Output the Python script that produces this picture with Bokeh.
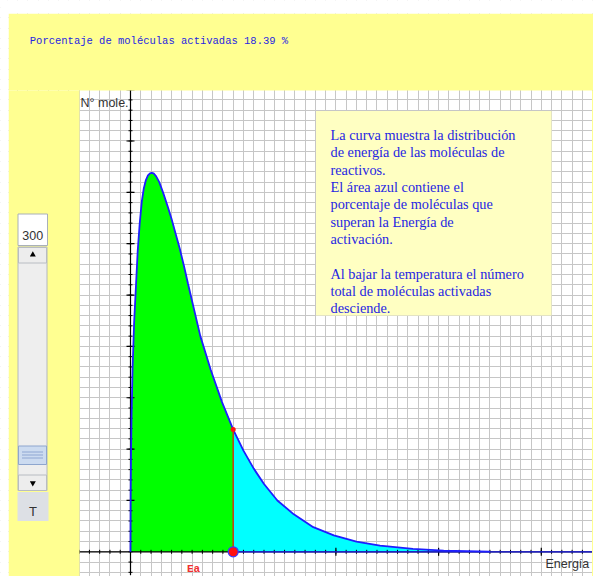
import numpy as np
from bokeh.plotting import figure
from bokeh.models import Range1d, Grid, FixedTicker, Label
from bokeh.embed import file_html
from bokeh.resources import INLINE

# ---- data ----
energy = [0.000, 0.002, 0.005, 0.010, 0.020, 0.035, 0.050, 0.070, 0.090, 0.110,
          0.130, 0.150, 0.170, 0.190, 0.207, 0.225, 0.250, 0.280, 0.320, 0.360,
          0.400, 0.440, 0.480, 0.520, 0.560, 0.600, 0.680, 0.780, 0.890, 1.000,
          1.100, 1.200, 1.300, 1.430, 1.590, 1.780, 1.980, 2.200, 2.430, 2.750,
          3.050, 3.500]
molecules = [0.00, 1.20, 1.90, 2.60, 3.55, 4.45, 5.05, 5.85, 6.40, 6.82,
             7.08, 7.24, 7.33, 7.37, 7.38, 7.37, 7.31, 7.20, 6.98, 6.74,
             6.48, 6.19, 5.90, 5.57, 5.22, 4.88, 4.20, 3.55, 2.92, 2.38,
             1.97, 1.62, 1.32, 1.00, 0.73, 0.48, 0.32, 0.20, 0.12, 0.055,
             0.022, 0.004]
ea_energy = 1.0
ea_molecules = 2.38
percent_activated = 18.39
temperature = 300
info_lines = ["La curva muestra la distribución",
              "de energía de las moléculas de",
              "reactivos.",
              "El área azul contiene el",
              "porcentaje de moléculas que",
              "superan la Energía de",
              "activación.",
              "",
              "Al bajar la temperatura el número",
              "total de moléculas activadas",
              "desciende."]

YELLOW = "#FFFF91"
BOX = "#FFFFC2"
TXT_BLUE = "#2626E2"

W, H = 593, 576
p = figure(width=W, height=H, title=None,
           x_range=Range1d(-1.2658, 4.5083), y_range=Range1d(-0.481, 10.736),
           x_axis_type=None, y_axis_type=None, toolbar_location=None,
           output_backend="svg", min_border=0)
p.outline_line_color = None
p.background_fill_color = "white"
p.border_fill_color = YELLOW
p.extra_x_ranges = {"px": Range1d(0, 593)}
p.extra_y_ranges = {"px": Range1d(576, 0)}

# grid: one line per cell
xt = [round(v, 2) for v in np.arange(-1.3, 4.6, 0.1)]
yt = [round(v, 2) for v in np.arange(-0.6, 10.8, 0.2)]
p.add_layout(Grid(dimension=0, ticker=FixedTicker(ticks=xt),
                  grid_line_color="#C6C6C6", grid_line_width=1))
p.add_layout(Grid(dimension=1, ticker=FixedTicker(ticks=yt),
                  grid_line_color="#C6C6C6", grid_line_width=1))

E = np.array(energy)
N = np.array(molecules)
left = E <= ea_energy
right = E >= ea_energy
p.varea(x=E[left], y1=0, y2=N[left], fill_color="#00FF00")
p.varea(x=E[right], y1=0, y2=N[right], fill_color="#00FFFF")

# axes
p.segment(x0=[-0.5, 0], y0=[0, -0.45], x1=[4.5, 0], y1=[0, 10.0], line_color="black", line_width=1.2)
xminor = [round(v, 2) for v in np.arange(-0.5, 4.55, 0.1)]
xmajor = [1, 2, 3, 4]
yminor = [round(v, 2) for v in np.arange(-0.4, 10.0, 0.2)]
ymajor = list(range(1, 10))
p.scatter(x=xminor, y=[0] * len(xminor), marker="dash", size=4, angle=np.pi / 2,
          line_color="black", line_width=1)
p.scatter(x=xmajor, y=[0] * len(xmajor), marker="dash", size=8, angle=np.pi / 2,
          line_color="black", line_width=1.2)
p.scatter(x=[0] * len(yminor), y=yminor, marker="dash", size=4,
          line_color="black", line_width=1)
p.scatter(x=[0] * len(ymajor), y=ymajor, marker="dash", size=8,
          line_color="black", line_width=1.2)

# curve
p.segment(x0=[ea_energy], y0=[0], x1=[4.5], y1=[0], line_color="#2020F0", line_width=1.2)
p.line(E, N, line_color="#1E1EFF", line_width=1.8)
p.segment(x0=[ea_energy], y0=[0], x1=[ea_energy], y1=[ea_molecules],
          line_color="#C83A10", line_width=1.5)
p.scatter([ea_energy], [ea_molecules], size=5, fill_color="#FF1010", line_color=None)
p.scatter([ea_energy], [0], size=10, fill_color="#FF1010", line_color="#3A3AFF", line_width=1.2)

# yellow panels around the graph area (screen-pixel range)
px = dict(x_range_name="px", y_range_name="px")
p.quad(left=[8, 8, 591.5], right=[593, 79, 593], top=[13, 90, 90], bottom=[90, 576, 576],
       fill_color=YELLOW, line_color=None, **px)
p.quad(left=[0, 0], right=[593, 8], top=[0, 0], bottom=[13, 576],
       fill_color="white", line_color=None, **px)

# info box
p.quad(left=[315.5], right=[551], top=[110.5], bottom=[315], fill_color=BOX, line_color=None, **px)
for i, t in enumerate(info_lines):
    if t:
        p.add_layout(Label(x=330, y=134.3 + 17.35 * i, text=t, text_font="Liberation Serif",
                           text_font_size="14.3px", text_color=TXT_BLUE,
                           text_baseline="alphabetic", **px))

# temperature control (text field + scrollbar + button)
p.quad(left=[17.5], right=[47], top=[213.5], bottom=[245], fill_color="white",
       line_color="#A9B0B8", line_width=1, **px)
p.add_layout(Label(x=32.3, y=234.5, text=str(temperature), text_font="Liberation Sans",
                   text_font_size="12.5px", text_color="#333333", text_align="center",
                   text_baseline="alphabetic", **px))
p.quad(left=[17.5], right=[46.5], top=[246.5], bottom=[490], fill_color="#EEEEEE",
       line_color="#B4B8BE", line_width=1, **px)
p.quad(left=[18, 18], right=[46, 46], top=[247, 474.5], bottom=[262.5, 490],
       fill_color="#EDEDED", line_color="#B8BCC2", line_width=1, **px)
p.scatter([32.3], [254.3], marker="triangle", size=6, fill_color="black", line_color=None, **px)
p.scatter([32.3], [482.5], marker="inverted_triangle", size=6, fill_color="black", line_color=None, **px)
p.quad(left=[18], right=[46], top=[445.5], bottom=[464], fill_color="#CCDBF0",
       line_color="#8EA6CE", line_width=1, **px)
p.segment(x0=[21.5] * 3, y0=[451.5, 454.5, 457.5], x1=[42.5] * 3, y1=[451.5, 454.5, 457.5],
          line_color="#8EA6D2", line_width=1, **px)
p.quad(left=[17], right=[48], top=[491.5], bottom=[520.5], fill_color="#DDE0E5",
       line_color=None, **px)
p.add_layout(Label(x=32.5, y=511, text="T", text_font="Liberation Sans",
                   text_font_size="13px", text_color="#333333", text_align="center",
                   text_baseline="alphabetic", **px))

# texts
p.add_layout(Label(x=29.3, y=40.5,
                   text="Porcentaje de moléculas activadas  %.2f %%" % percent_activated,
                   text_font="Liberation Mono", text_font_size="10.5px", text_color=TXT_BLUE,
                   text_baseline="alphabetic", **px))
p.add_layout(Label(x=80, y=102.8, text="N° mole.", text_font="Liberation Sans",
                   text_font_size="12.5px", text_color="#333333", text_baseline="alphabetic", **px))
p.add_layout(Label(x=545, y=563.5, text="Energía", text_font="Liberation Sans",
                   text_font_size="12.5px", text_color="#333333", text_baseline="alphabetic", **px))
p.add_layout(Label(x=193, y=568.5, text="Ea", text_font="Liberation Mono",
                   text_font_size="11px", text_font_style="bold", text_color="#F03030",
                   text_align="center", text_baseline="alphabetic", **px))

open("out.html", "w").write(file_html(p, INLINE))
